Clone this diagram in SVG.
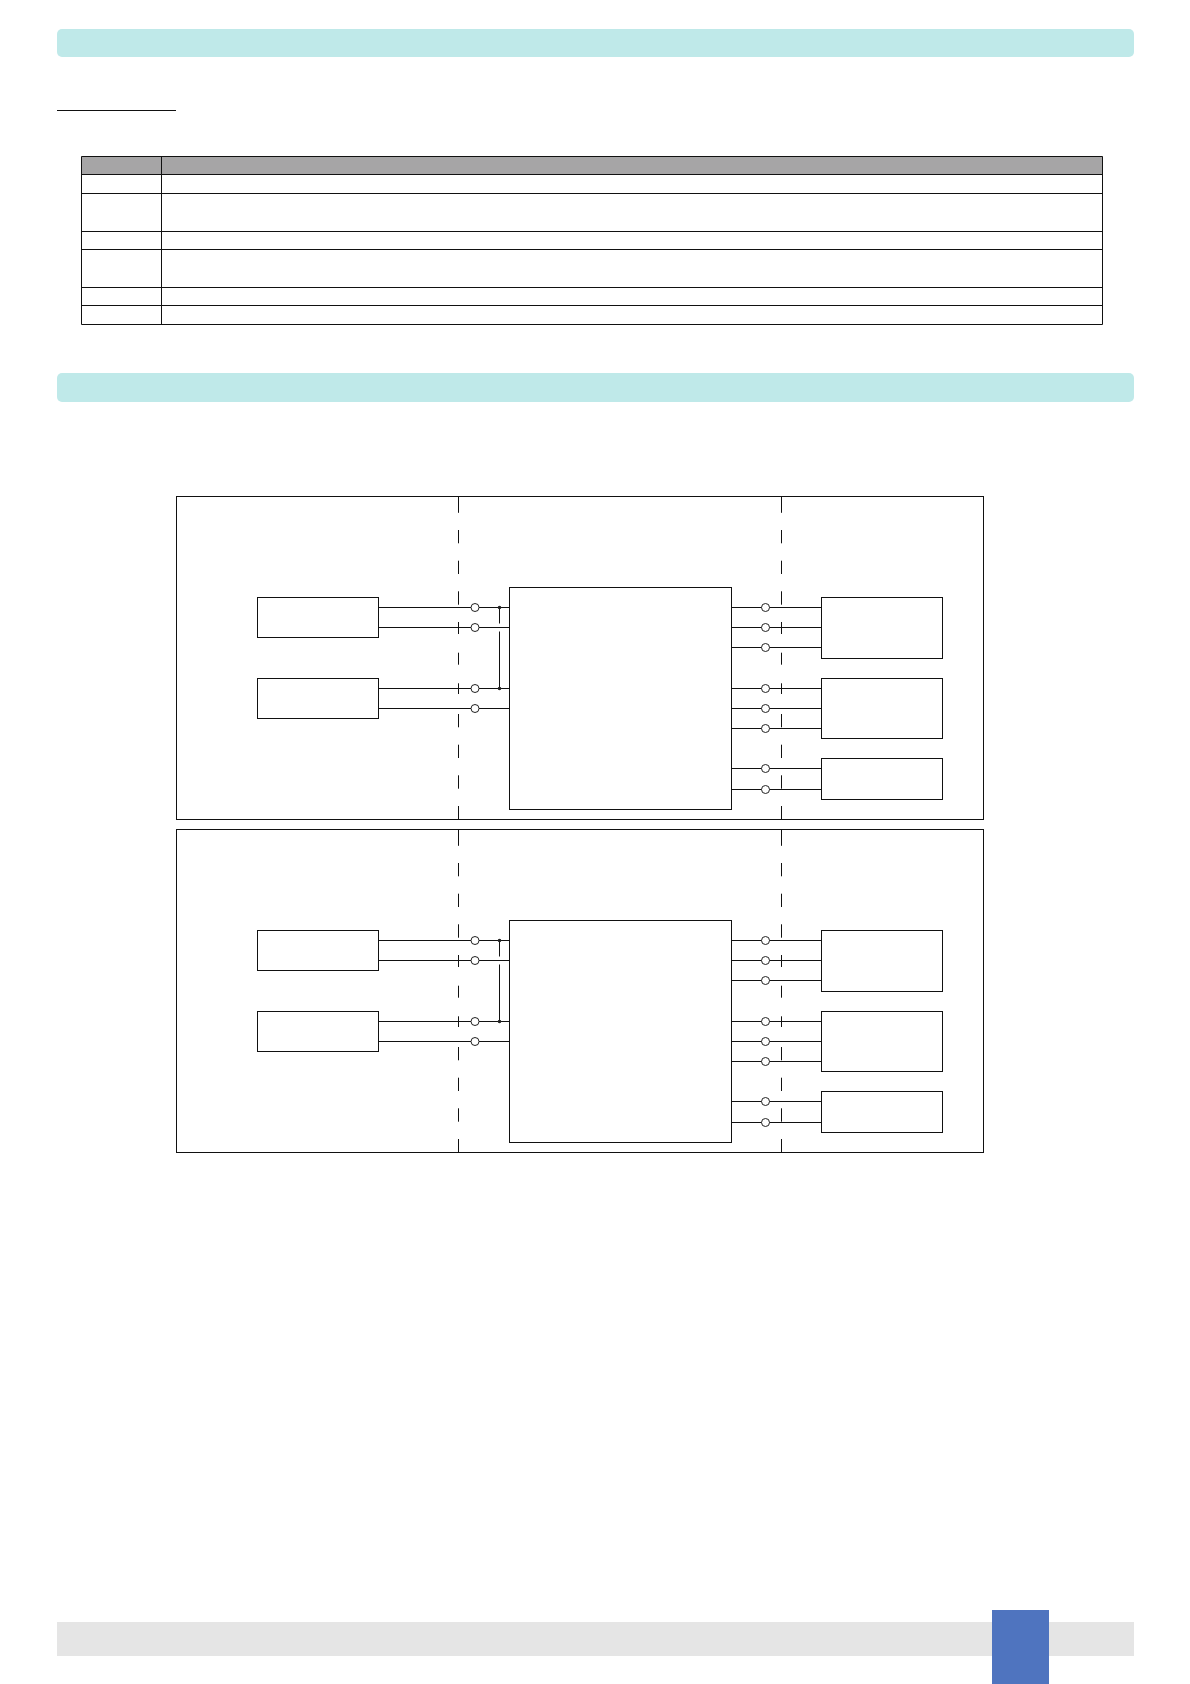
<svg xmlns="http://www.w3.org/2000/svg" width="1190" height="1684" viewBox="0 0 1190 1684">
<style>
.band{fill:#bfe9e9}
.ln{fill:none;stroke:#111;stroke-width:1}
.box{fill:#fff;stroke:#111;stroke-width:1}
.term{fill:#fff;stroke:#222;stroke-width:1}
.dot{fill:#222}
</style>
<defs>
<path id="bound" class="ln" d="M0 496.5V512.8M0 530V543.3M0 560.7V574M0 591.3V604.7M0 622V634M0 652.7V664.7M0 683.3V694M0 714V727.3M0 744.7V758M0 775.3V788.7M0 806V819.5"/>
<g id="wires-set">
<path class="ln" d="M378.5 607.5H509.5M378.5 627.5H509.5M378.5 688.5H509.5M378.5 708.5H509.5"/>
<path class="ln" d="M499.5 607.5V623.5M499.5 631.5V688.5"/>
<circle class="dot" cx="499.5" cy="607.5" r="1.8"/>
<circle class="dot" cx="499.5" cy="688.5" r="1.8"/>
<path class="ln" d="M731.5 607.5H821.5M731.5 627.5H821.5M731.5 647.5H821.5M731.5 688.5H821.5M731.5 708.5H821.5M731.5 728.5H821.5M731.5 768.5H821.5M731.5 789.5H821.5"/>
<g class="term">
<circle cx="475" cy="607.5" r="4"/><circle cx="475" cy="627.5" r="4"/><circle cx="475" cy="688.5" r="4"/><circle cx="475" cy="708.5" r="4"/>
<circle cx="765.5" cy="607.5" r="4"/><circle cx="765.5" cy="627.5" r="4"/><circle cx="765.5" cy="647.5" r="4"/><circle cx="765.5" cy="688.5" r="4"/><circle cx="765.5" cy="708.5" r="4"/><circle cx="765.5" cy="728.5" r="4"/><circle cx="765.5" cy="768.5" r="4"/><circle cx="765.5" cy="789.5" r="4"/>
</g>
</g>
</defs>
<rect class="band" x="57" y="29" width="1077" height="28" rx="5"/>
<rect class="band" x="57" y="373" width="1077" height="29" rx="5"/>
<path class="ln" d="M57 110.5H176"/>
<g id="table">
<rect x="81.5" y="156.5" width="1021.5" height="18" fill="#a6a5a6"/>
<path class="ln" d="M81.5 156.5H1102.5V324.5H81.5ZM161.5 156.5V324.5M81.5 174.5H1102.5M81.5 193.5H1102.5M81.5 231.5H1102.5M81.5 249.5H1102.5M81.5 287.5H1102.5M81.5 305.5H1102.5"/>
</g>
<g id="frame-1"><rect class="box" x="176.5" y="496.5" width="807" height="323"/></g>
<g id="frame-2"><rect class="box" x="176.5" y="829.5" width="807" height="323"/></g>
<g id="connectors">
<use href="#bound" x="458.5"/>
<use href="#bound" x="781.5"/>
<use href="#bound" x="458.5" y="333"/>
<use href="#bound" x="781.5" y="333"/>
<use href="#wires-set"/>
<use href="#wires-set" y="333"/>
</g>
<g id="a-in-1"><rect class="box" x="257.5" y="597.5" width="121" height="40"/></g>
<g id="a-in-2"><rect class="box" x="257.5" y="678.5" width="121" height="40"/></g>
<g id="a-center"><rect class="box" x="509.5" y="587.5" width="222" height="222"/></g>
<g id="a-out-1"><rect class="box" x="821.5" y="597.5" width="121" height="61"/></g>
<g id="a-out-2"><rect class="box" x="821.5" y="678.5" width="121" height="60"/></g>
<g id="a-out-3"><rect class="box" x="821.5" y="758.5" width="121" height="41"/></g>
<g id="b-in-1"><rect class="box" x="257.5" y="930.5" width="121" height="40"/></g>
<g id="b-in-2"><rect class="box" x="257.5" y="1011.5" width="121" height="40"/></g>
<g id="b-center"><rect class="box" x="509.5" y="920.5" width="222" height="222"/></g>
<g id="b-out-1"><rect class="box" x="821.5" y="930.5" width="121" height="61"/></g>
<g id="b-out-2"><rect class="box" x="821.5" y="1011.5" width="121" height="60"/></g>
<g id="b-out-3"><rect class="box" x="821.5" y="1091.5" width="121" height="41"/></g>
<rect x="57" y="1622" width="1077" height="34" fill="#e5e5e5"/>
<rect x="992" y="1610" width="57" height="74" fill="#4f74bf"/>
</svg>
